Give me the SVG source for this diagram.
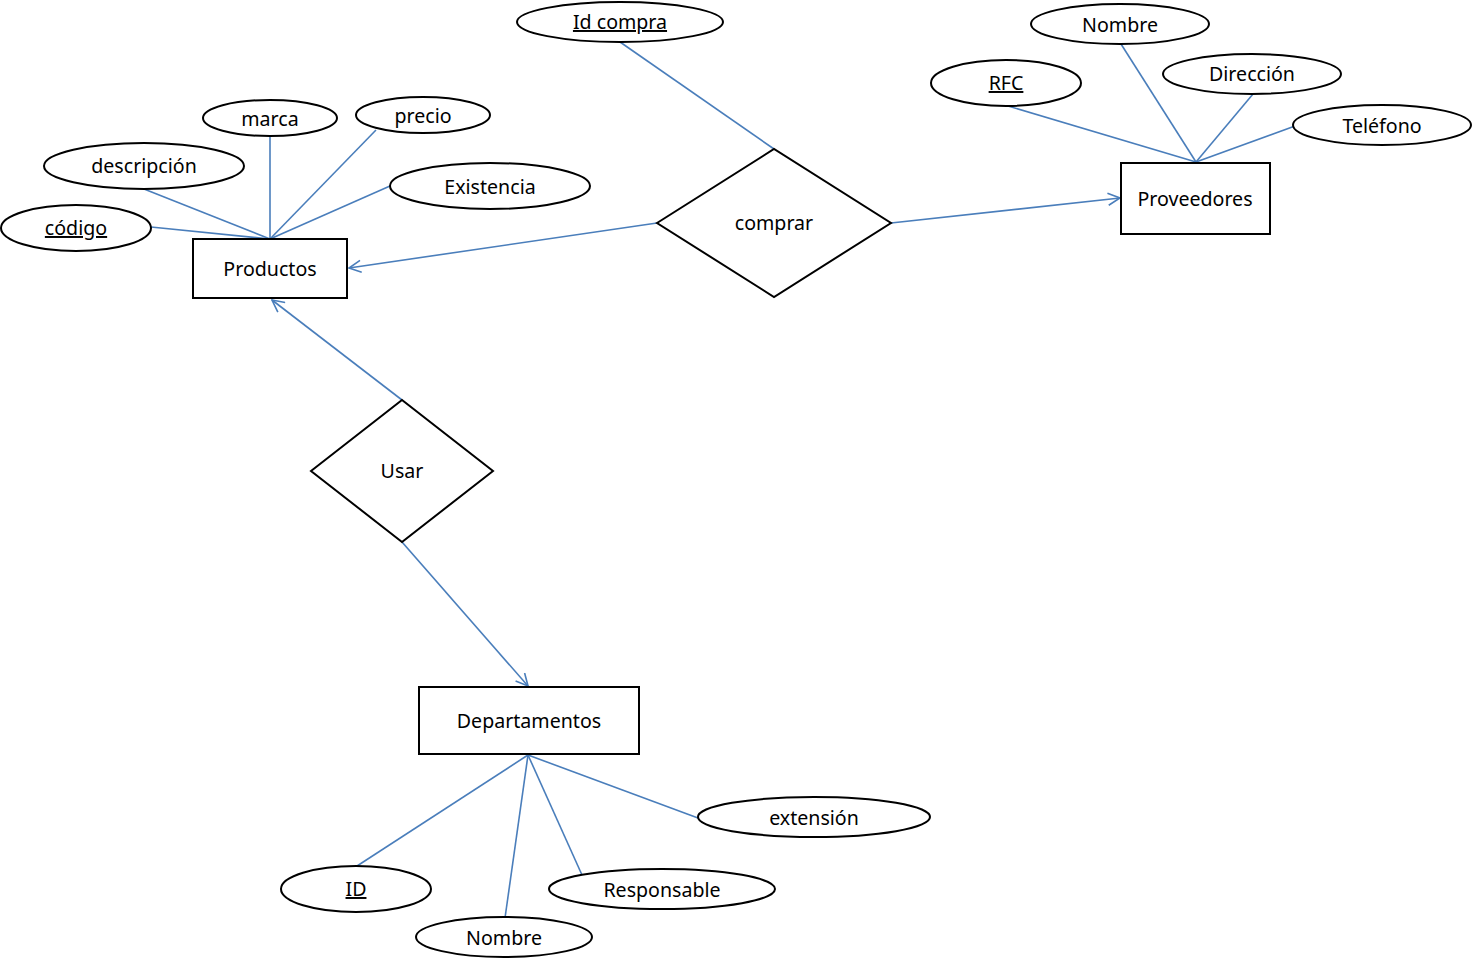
<svg xmlns="http://www.w3.org/2000/svg" width="1472" height="966" viewBox="0 0 1472 966">
<defs>
<style>
.ent{fill:#fff;stroke:#000;stroke-width:2}
.att{fill:#fff;stroke:#000;stroke-width:2}
.rel{fill:#fff;stroke:#000;stroke-width:2}
.ln{stroke:#4a7ebb;stroke-width:1.6;fill:none}
.arr{marker-end:url(#ah)}
text{font-family:"Noto Sans","Open Sans","Liberation Sans",sans-serif;font-size:19.6px;fill:#000;text-anchor:middle}
.key{text-decoration:underline}
</style>
<marker id="ah" viewBox="0 0 14 14" refX="13" refY="7" markerWidth="14" markerHeight="14" markerUnits="userSpaceOnUse" orient="auto">
<path d="M1,1 L13,7 L1,13" fill="none" stroke="#4a7ebb" stroke-width="1.6"/>
</marker>
</defs>
<rect width="1472" height="966" fill="#fff"/>
<g id="connectors">
<line class="ln" x1="151" y1="227" x2="270" y2="239"/>
<line class="ln" x1="144" y1="189" x2="270" y2="239"/>
<line class="ln" x1="270" y1="136" x2="270" y2="239"/>
<line class="ln" x1="376" y1="130" x2="270" y2="239"/>
<line class="ln" x1="390" y1="186" x2="270" y2="239"/>
<line class="ln" x1="620" y1="42" x2="774" y2="149"/>
<line class="ln arr" x1="657" y1="223" x2="349" y2="268"/>
<line class="ln arr" x1="891" y1="223" x2="1120" y2="198"/>
<line class="ln arr" x1="402" y1="400" x2="272" y2="300"/>
<line class="ln arr" x1="402" y1="542" x2="528" y2="686"/>
<line class="ln" x1="1008" y1="106" x2="1196" y2="162"/>
<line class="ln" x1="1121" y1="44" x2="1196" y2="162"/>
<line class="ln" x1="1253" y1="94" x2="1196" y2="162"/>
<line class="ln" x1="1295" y1="126" x2="1196" y2="162"/>
<line class="ln" x1="528" y1="755" x2="357" y2="866"/>
<line class="ln" x1="528" y1="755" x2="505" y2="918"/>
<line class="ln" x1="528" y1="755" x2="582" y2="875"/>
<line class="ln" x1="528" y1="755" x2="698" y2="818"/>
</g>
<g id="productos"><rect class="ent" x="193" y="239" width="154" height="59"/><text x="270" y="276">Productos</text></g>
<g id="proveedores"><rect class="ent" x="1121" y="163" width="149" height="71"/><text x="1195" y="206">Proveedores</text></g>
<g id="departamentos"><rect class="ent" x="419" y="687" width="220" height="67"/><text x="529" y="728">Departamentos</text></g>
<g id="comprar"><polygon class="rel" points="657,223 774,149 891,223 774,297"/><text x="774" y="230">comprar</text></g>
<g id="usar"><polygon class="rel" points="311,471 402,400 493,471 402,542"/><text x="402" y="478">Usar</text></g>
<g id="attr-idcompra"><ellipse class="att" cx="620" cy="22" rx="103" ry="20"/><text class="key" x="620" y="29">Id compra</text></g>
<g id="attr-nombre-prov"><ellipse class="att" cx="1120" cy="24" rx="89" ry="20"/><text x="1120" y="32">Nombre</text></g>
<g id="attr-rfc"><ellipse class="att" cx="1006" cy="83" rx="75" ry="23"/><text class="key" x="1006" y="90">RFC</text></g>
<g id="attr-direccion"><ellipse class="att" cx="1252" cy="74" rx="89" ry="20"/><text x="1252" y="81">Dirección</text></g>
<g id="attr-telefono"><ellipse class="att" cx="1382" cy="125" rx="89" ry="20"/><text x="1382" y="133">Teléfono</text></g>
<g id="attr-marca"><ellipse class="att" cx="270" cy="118" rx="67" ry="18"/><text x="270" y="126">marca</text></g>
<g id="attr-precio"><ellipse class="att" cx="423" cy="115" rx="67" ry="18"/><text x="423" y="123">precio</text></g>
<g id="attr-descripcion"><ellipse class="att" cx="144" cy="166" rx="100" ry="23"/><text x="144" y="173">descripción</text></g>
<g id="attr-existencia"><ellipse class="att" cx="490" cy="186" rx="100" ry="23"/><text x="490" y="194">Existencia</text></g>
<g id="attr-codigo"><ellipse class="att" cx="76" cy="228" rx="75" ry="23"/><text class="key" x="76" y="235">código</text></g>
<g id="attr-extension"><ellipse class="att" cx="814" cy="817" rx="116" ry="20"/><text x="814" y="825">extensión</text></g>
<g id="attr-id"><ellipse class="att" cx="356" cy="889" rx="75" ry="23"/><text class="key" x="356" y="896">ID</text></g>
<g id="attr-responsable"><ellipse class="att" cx="662" cy="889" rx="113" ry="20"/><text x="662" y="897">Responsable</text></g>
<g id="attr-nombre-dep"><ellipse class="att" cx="504" cy="937" rx="88" ry="20"/><text x="504" y="945">Nombre</text></g>
</svg>
